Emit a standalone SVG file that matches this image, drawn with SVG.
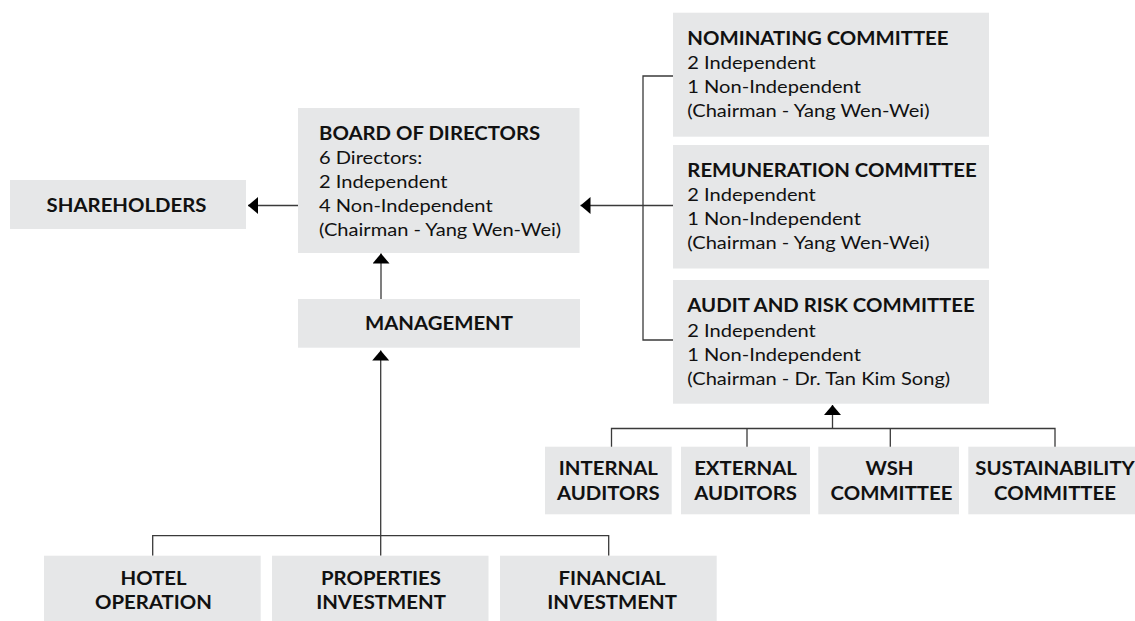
<svg xmlns="http://www.w3.org/2000/svg" width="1135" height="621" viewBox="0 0 1135 621">
<defs>
<style>
.box{fill:#e6e7e8;}
.t{font-family:Lato,"Liberation Sans","DejaVu Sans",sans-serif;font-weight:700;font-size:18.5px;fill:#111;}
.b{font-family:Lato,"Liberation Sans","DejaVu Sans",sans-serif;font-weight:400;font-size:16.5px;fill:#111;}
.c{text-anchor:middle;}
.ln{fill:none;stroke:#3a3a3a;stroke-width:1.3;}
</style>
<marker id="ah" markerUnits="userSpaceOnUse" markerWidth="12" markerHeight="18" refX="10" refY="8.5" orient="auto">
<path d="M0,0 L10,8.5 L0,17 Z" fill="#000"/>
</marker>
</defs>
<rect width="1135" height="621" fill="#fff"/>

<g id="connectors">
<path class="ln" d="M298,205.5 H248" marker-end="url(#ah)"/>
<path class="ln" d="M381,299 V253.5" marker-end="url(#ah)"/>
<path class="ln" d="M152.7,555.7 V535.7 H608.7 V555.7"/>
<path class="ln" d="M380.7,555.7 V350.5" marker-end="url(#ah)"/>
<path class="ln" d="M673,76 H643 V340 H673"/>
<path class="ln" d="M673,205.5 H580.5" marker-end="url(#ah)"/>
<path class="ln" d="M611.5,447 V428.5 H1055 V447"/>
<path class="ln" d="M747,428.5 V447"/>
<path class="ln" d="M890.3,428.5 V447"/>
<path class="ln" d="M832.5,428.5 V405" marker-end="url(#ah)"/>
</g>

<g id="shareholders">
<rect class="box" x="10" y="180" width="236" height="49"/>
<text class="t c" transform="translate(126.5 211.5) scale(1.1 1)">SHAREHOLDERS</text>
</g>

<g id="board">
<rect class="box" x="298" y="108" width="281.5" height="145"/>
<text class="t" transform="translate(319 140) scale(1.1 1)">BOARD OF DIRECTORS</text>
<text class="b" transform="translate(319 164) scale(1.218 1)">6 Directors:</text>
<text class="b" transform="translate(319 188) scale(1.218 1)">2 Independent</text>
<text class="b" transform="translate(319 212) scale(1.218 1)">4 Non-Independent</text>
<text class="b" transform="translate(319 236) scale(1.218 1)">(Chairman - Yang Wen-Wei)</text>
</g>

<g id="management">
<rect class="box" x="298" y="299" width="282" height="48.7"/>
<text class="t c" transform="translate(439 330) scale(1.1 1)">MANAGEMENT</text>
</g>

<g id="nominating">
<rect class="box" x="673" y="12.7" width="316" height="124"/>
<text class="t" transform="translate(687.3 44.5) scale(1.1 1)">NOMINATING COMMITTEE</text>
<text class="b" transform="translate(687.3 69) scale(1.218 1)">2 Independent</text>
<text class="b" transform="translate(687.3 93) scale(1.218 1)">1 Non-Independent</text>
<text class="b" transform="translate(687.3 117) scale(1.218 1)">(Chairman - Yang Wen-Wei)</text>
</g>

<g id="remuneration">
<rect class="box" x="673" y="145" width="316" height="123.5"/>
<text class="t" transform="translate(687.3 176.5) scale(1.1 1)">REMUNERATION COMMITTEE</text>
<text class="b" transform="translate(687.3 201) scale(1.218 1)">2 Independent</text>
<text class="b" transform="translate(687.3 225) scale(1.218 1)">1 Non-Independent</text>
<text class="b" transform="translate(687.3 249) scale(1.218 1)">(Chairman - Yang Wen-Wei)</text>
</g>

<g id="audit">
<rect class="box" x="673" y="280" width="316" height="123.7"/>
<text class="t" transform="translate(687.3 312.3) scale(1.1 1)">AUDIT AND RISK COMMITTEE</text>
<text class="b" transform="translate(687.3 336.7) scale(1.218 1)">2 Independent</text>
<text class="b" transform="translate(687.3 360.7) scale(1.218 1)">1 Non-Independent</text>
<text class="b" transform="translate(687.3 384.7) scale(1.218 1)">(Chairman - Dr. Tan Kim Song)</text>
</g>

<g id="internal-auditors">
<rect class="box" x="545" y="446.7" width="126.7" height="67.6"/>
<text class="t c" transform="translate(608.3 475) scale(1.1 1)">INTERNAL</text>
<text class="t c" transform="translate(608.3 500) scale(1.1 1)">AUDITORS</text>
</g>

<g id="external-auditors">
<rect class="box" x="681" y="446.7" width="129" height="67.6"/>
<text class="t c" transform="translate(745.5 475) scale(1.1 1)">EXTERNAL</text>
<text class="t c" transform="translate(745.5 500) scale(1.1 1)">AUDITORS</text>
</g>

<g id="wsh-committee">
<rect class="box" x="818.3" y="446.7" width="140.7" height="67.6"/>
<text class="t c" transform="translate(889.5 475) scale(1.1 1)">WSH</text>
<text class="t c" transform="translate(891.5 500) scale(1.1 1)">COMMITTEE</text>
</g>

<g id="sustainability-committee">
<rect class="box" x="968.3" y="446.7" width="166.7" height="67.6"/>
<text class="t c" transform="translate(1055 475) scale(1.1 1)">SUSTAINABILITY</text>
<text class="t c" transform="translate(1055 500) scale(1.1 1)">COMMITTEE</text>
</g>

<g id="hotel-operation">
<rect class="box" x="44" y="555.7" width="216.7" height="65.3"/>
<text class="t c" transform="translate(153.5 585) scale(1.1 1)">HOTEL</text>
<text class="t c" transform="translate(153.5 609.3) scale(1.1 1)">OPERATION</text>
</g>

<g id="properties-investment">
<rect class="box" x="272" y="555.7" width="216.5" height="65.3"/>
<text class="t c" transform="translate(381 585) scale(1.1 1)">PROPERTIES</text>
<text class="t c" transform="translate(381 609.3) scale(1.1 1)">INVESTMENT</text>
</g>

<g id="financial-investment">
<rect class="box" x="500" y="555.7" width="216.7" height="65.3"/>
<text class="t c" transform="translate(612 585) scale(1.1 1)">FINANCIAL</text>
<text class="t c" transform="translate(612 609.3) scale(1.1 1)">INVESTMENT</text>
</g>
</svg>
